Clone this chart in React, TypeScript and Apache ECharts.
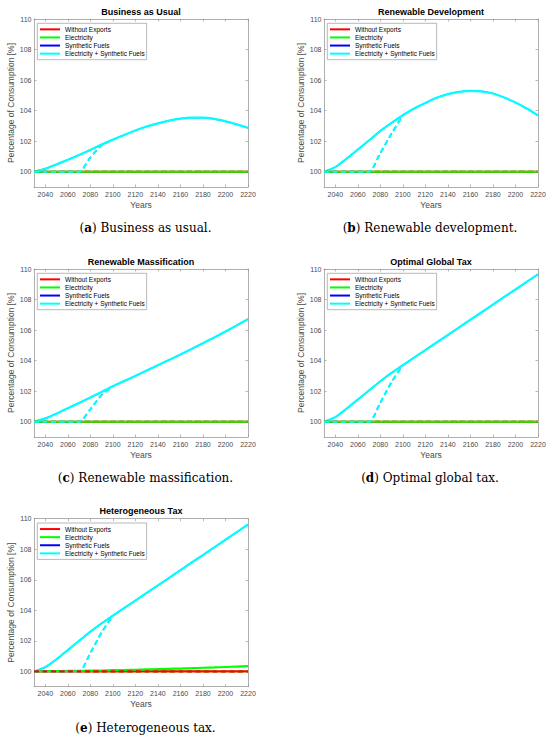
import { useEffect, useRef } from "react";
import * as echarts from "echarts";

const years = [2030, 2040, 2050, 2060, 2070, 2080, 2090, 2100, 2110, 2120, 2130, 2140, 2150, 2160, 2170, 2180, 2190, 2200, 2210, 2220];
const xTickLabels = [2040, 2060, 2080, 2100, 2120, 2140, 2160, 2180, 2200, 2220];
const yTickLabels = [100, 102, 104, 106, 108, 110];
const legendNames = ["Without Exports", "Electricity", "Synthetic Fuels", "Electricity + Synthetic Fuels"];

const flat100 = [100, 100, 100, 100, 100, 100, 100, 100, 100, 100, 100, 100, 100, 100, 100, 100, 100, 100, 100, 100];

// Delayed-export curves are listed until they merge with the immediate-export curve (2100);
// beyond that they coincide with it.
// (a) Business as usual
const bauTotal = [100.0, 100.2, 100.48, 100.78, 101.1, 101.43, 101.78, 102.1, 102.4, 102.7, 102.96, 103.17, 103.35, 103.48, 103.54, 103.54, 103.46, 103.3, 103.1, 102.87];
const bauDelayed = [100, 100, 100, 100, 100, 100.93, 101.72, 102.1];
// (b) Renewable development
const rdTotal = [100.0, 100.3, 100.85, 101.45, 102.05, 102.67, 103.2, 103.7, 104.14, 104.5, 104.84, 105.08, 105.23, 105.3, 105.26, 105.12, 104.86, 104.53, 104.14, 103.68];
const rdDelayed = [100, 100, 100, 100, 100, 101.22, 102.5, 103.7];
// (c) Renewable massification
const rmTotal = [100.0, 100.22, 100.53, 100.88, 101.23, 101.58, 101.95, 102.32, 102.66, 103.0, 103.35, 103.7, 104.05, 104.4, 104.77, 105.14, 105.52, 105.91, 106.31, 106.72];
const rmDelayed = [100, 100, 100, 100, 100, 100.81, 101.75, 102.32];
// (d) Optimal global tax
const ogtTotal = [100.0, 100.3, 100.85, 101.45, 102.05, 102.65, 103.2, 103.7, 104.2, 104.69, 105.19, 105.68, 106.18, 106.68, 107.17, 107.67, 108.17, 108.66, 109.16, 109.65];
const ogtDelayed = [100, 100, 100, 100, 100, 101.25, 102.6, 103.7];
// (e) Heterogeneous tax
const htTotal = [100.0, 100.28, 100.8, 101.4, 102.0, 102.6, 103.15, 103.65, 104.15, 104.64, 105.14, 105.63, 106.13, 106.63, 107.13, 107.62, 108.12, 108.62, 109.12, 109.62];
const htDelayed = [100, 100, 100, 100, 100, 101.2, 102.55, 103.65];
const htElectricity = [100.0, 100.01, 100.02, 100.03, 100.04, 100.05, 100.06, 100.08, 100.09, 100.11, 100.13, 100.15, 100.17, 100.19, 100.21, 100.24, 100.26, 100.29, 100.32, 100.35];

const titles = ["Business as Usual", "Renewable Development", "Renewable Massification", "Optimal Global Tax", "Heterogeneous Tax"];
const letters = ["a", "b", "c", "d", "e"];
const captions = ["Business as usual.", "Renewable development.", "Renewable massification.", "Optimal global tax.", "Heterogeneous tax."];

const panels = [
  { red: flat100, green: flat100, blue: bauTotal, cyan: bauTotal, redD: flat100, greenD: flat100, blueD: bauDelayed, cyanD: bauDelayed },
  { red: flat100, green: flat100, blue: rdTotal, cyan: rdTotal, redD: flat100, greenD: flat100, blueD: rdDelayed, cyanD: rdDelayed },
  { red: flat100, green: flat100, blue: rmTotal, cyan: rmTotal, redD: flat100, greenD: flat100, blueD: rmDelayed, cyanD: rmDelayed },
  { red: flat100, green: flat100, blue: ogtTotal, cyan: ogtTotal, redD: flat100, greenD: flat100, blueD: ogtDelayed, cyanD: ogtDelayed },
  { red: flat100, green: htElectricity, blue: htTotal, cyan: htTotal, redD: flat100, greenD: flat100, blueD: htDelayed, cyanD: htDelayed },
];

const COLORS = { red: "#ff0000", green: "#00ff00", blue: "#0000ff", cyan: "#00ffff" };

const layout = [
  { left: 34, top: 19, capX: 145.5 },
  { left: 324, top: 19, capX: 430 },
  { left: 34, top: 269, capX: 145.5 },
  { left: 324, top: 269, capX: 430 },
  { left: 34, top: 518.7, capX: 145.5 },
];
const GW = 214;
const GH = 168;

const SANS = "'Liberation Sans', Arial, Helvetica, sans-serif";
const AXIS_GRAY = "#9a9a9a";
const LABEL_GRAY = "#4a4a4a";

function pairs(vals: number[]) {
  return vals.map((v, i) => [years[i], v]);
}

export default function App() {
  const ref = useRef<HTMLDivElement>(null);

  useEffect(() => {
    document.body.style.margin = "0";
    if (!ref.current) return;
    const chart = echarts.init(ref.current, undefined, { renderer: "svg" });

    const grid: any[] = [];
    const xAxis: any[] = [];
    const yAxis: any[] = [];
    const title: any[] = [];
    const legend: any[] = [];
    const series: any[] = [];
    const graphic: any[] = [];

    panels.forEach((p, i) => {
      const L = layout[i];
      grid.push({ left: L.left, top: L.top, width: GW, height: GH, show: false });

      const tick = { inside: true, length: 2.5, lineStyle: { color: AXIS_GRAY, width: 0.7 } };
      const line = { onZero: false, lineStyle: { color: AXIS_GRAY, width: 0.8 } };

      xAxis.push({
        type: "value", gridIndex: i, position: "bottom", min: 2030, max: 2220,
        axisLine: line,
        axisTick: { ...tick, customValues: xTickLabels },
        axisLabel: {
          customValues: xTickLabels, fontSize: 7, color: LABEL_GRAY, margin: 3.5, fontFamily: SANS,
          formatter: (v: number) => String(v),
        },
        splitLine: { show: false },
        name: "Years", nameLocation: "middle", nameGap: 13,
        nameTextStyle: { fontSize: 8.5, color: LABEL_GRAY, fontFamily: SANS },
      });
      xAxis.push({
        type: "value", gridIndex: i, position: "top", min: 2030, max: 2220,
        axisLine: line,
        axisTick: { ...tick, customValues: xTickLabels },
        axisLabel: { show: false },
        splitLine: { show: false },
      });
      yAxis.push({
        type: "value", gridIndex: i, position: "left", min: 99, max: 110,
        axisLine: line,
        axisTick: { ...tick, customValues: yTickLabels },
        axisLabel: {
          customValues: yTickLabels, fontSize: 7, color: LABEL_GRAY, margin: 2.5, fontFamily: SANS,
          formatter: (v: number) => String(v),
        },
        splitLine: { show: false },
        name: "Percentage of Consumption [%]", nameLocation: "middle", nameGap: 17.5,
        nameTextStyle: { fontSize: 8.5, color: LABEL_GRAY, fontFamily: SANS },
      });
      yAxis.push({
        type: "value", gridIndex: i, position: "right", min: 99, max: 110,
        axisLine: line,
        axisTick: { ...tick, customValues: yTickLabels },
        axisLabel: { show: false },
        splitLine: { show: false },
      });

      title.push({
        text: titles[i], left: L.left + GW / 2, top: L.top - 12, textAlign: "center", padding: 0,
        textStyle: { fontSize: 9, fontWeight: "bold", color: "#000", fontFamily: SANS },
      });

      legend.push({
        data: legendNames, orient: "vertical", left: L.left + 3.3, top: L.top + 4.3,
        padding: [2, 2, 2, 2.7], itemGap: 0, itemWidth: 20, itemHeight: 2, icon: "rect",
        borderColor: "#a6a6a6", borderWidth: 0.8, backgroundColor: "#fff",
        textStyle: { fontSize: 6.5, lineHeight: 8.1, color: "#000", fontFamily: SANS },
        selectedMode: false,
      });

      const xi = i * 2;
      const yi = i * 2;
      const mk = (name: string, vals: number[], color: string, dashed: boolean, z: number, width = 2.2) => ({
        name, type: "line", xAxisIndex: xi, yAxisIndex: yi, data: pairs(vals),
        showSymbol: false, symbol: "none", smooth: 0.25, silent: true, z,
        color, itemStyle: { color },
        lineStyle: { color, width, type: dashed ? [5, 3.5] : "solid" },
      });
      series.push(mk("Without Exports", p.red, COLORS.red, false, 2));
      series.push(mk("Synthetic Fuels (delayed)", p.blueD, COLORS.blue, true, 3, 1.2));
      series.push(mk("Synthetic Fuels", p.blue, COLORS.blue, false, 4, 1.2));
      series.push(mk("Electricity", p.green, COLORS.green, false, 5));
      series.push(mk("Electricity + Synthetic Fuels", p.cyan, COLORS.cyan, false, 6));
      series.push(mk("Without Exports (delayed)", p.redD, COLORS.red, true, i === 4 ? 10 : 7));
      series.push(mk("Electricity (delayed)", p.greenD, COLORS.green, true, 8));
      series.push(mk("Electricity + Synthetic Fuels (delayed)", p.cyanD, COLORS.cyan, true, 9));

      graphic.push({
        type: "text", x: L.capX, y: L.top + 209.3, silent: true,
        style: {
          text: `{p|(}{b|${letters[i]}}{p|) ${captions[i]}}`,
          align: "center", verticalAlign: "middle",
          fontSize: 12, fontFamily: "'DejaVu Serif', serif", fill: "#000",
          rich: {
            p: { fontSize: 12, fontFamily: "'DejaVu Serif', serif", fill: "#000" },
            b: { fontSize: 12, fontFamily: "'DejaVu Serif', serif", fontWeight: "bold", fill: "#000" },
          },
        },
      });
    });

    chart.setOption({
      animation: false,
      backgroundColor: "#fff",
      title, legend, grid, xAxis, yAxis, series, graphic,
    });

    return () => chart.dispose();
  }, []);

  return <div ref={ref} style={{ width: 550, height: 739 }} />;
}
